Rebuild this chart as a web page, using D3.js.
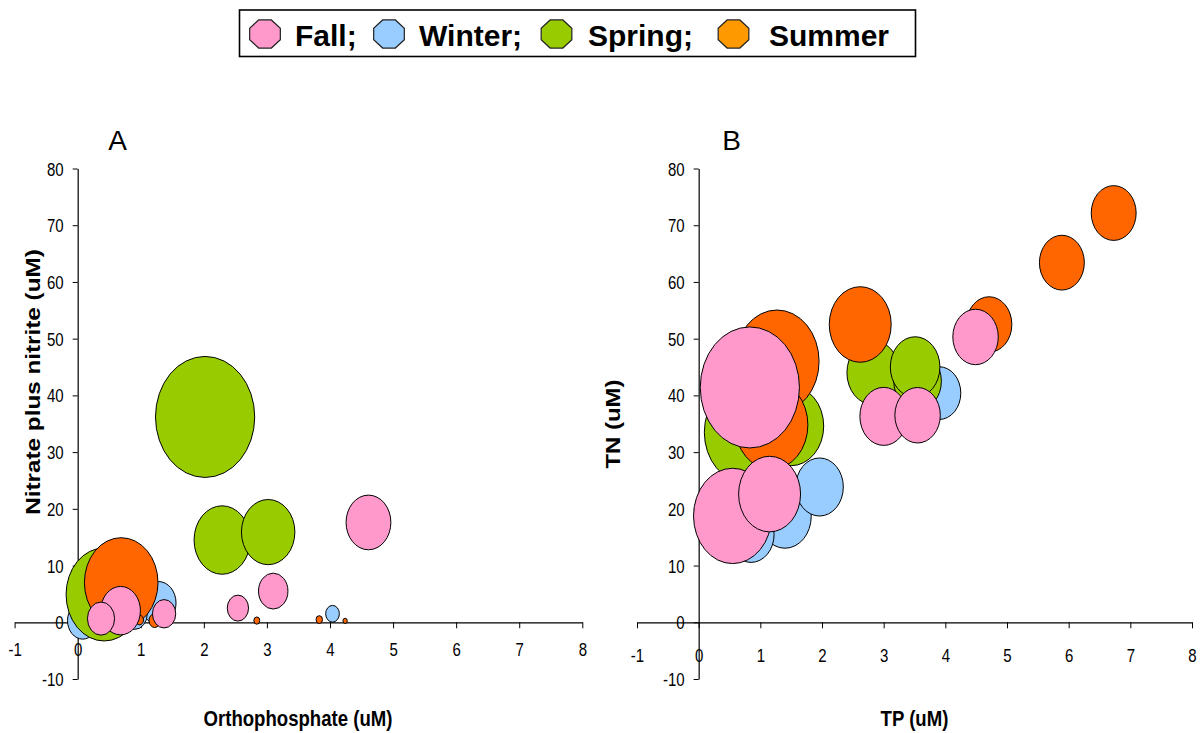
<!DOCTYPE html>
<html>
<head>
<meta charset="utf-8">
<script src="https://cdn.jsdelivr.net/npm/d3@7"></script>
<style>
  html, body { margin: 0; padding: 0; background: #fff; }
  svg { display: block; }
  text { font-family: "Liberation Sans", Arial, Helvetica, sans-serif; fill: #000; }
</style>
</head>
<body>
<svg id="chart" width="1202" height="733"></svg>
<script>
// Seasons, legend labels and tick values
const seasons = ["Fall", "Winter", "Spring", "Summer"];
const legendLabels = ["Fall;", "Winter;", "Spring;", "Summer"];
const xTicks = [-1, 0, 1, 2, 3, 4, 5, 6, 7, 8];
const yTicks = [-10, 0, 10, 20, 30, 40, 50, 60, 70, 80];

// Panel A: orthophosphate (uM), nitrate plus nitrite (uM), bubble size
const fallA = [
  [4.61, 17.6, 20.4],
  [0.68, 2.05, 16],
  [3.10, 5.5, 8.8],
  [0.37, 0.65, 7.5],
  [1.37, 1.5, 5.5],
  [2.54, 2.5, 4.6]
];
const winterA = [
  [1.28, 3.4, 12.6],
  [0.08, 0.3, 9.4],
  [0.90, 1.5, 6.7],
  [4.04, 1.5, 1.9]
];
const springA = [
  [2.02, 36.2, 100],
  [0.42, 4.9, 59],
  [2.29, 14.5, 32],
  [3.02, 15.9, 29]
];
const summerA = [
  [0.69, 7.0, 55],
  [1.22, 0.3, 1.3],
  [0.98, 0.4, 0.65],
  [2.84, 0.3, 0.36],
  [3.83, 0.47, 0.42],
  [4.24, 0.25, 0.19]
];

// Panel B: TP (uM), TN (uM), bubble size
const fallB = [
  [0.83, 41.4, 100],
  [0.55, 18.75, 62],
  [1.15, 22.6, 39],
  [4.49, 50.3, 21],
  [3.00, 36.3, 23],
  [3.55, 36.5, 21]
];
const winterB = [
  [1.40, 18.7, 28],
  [0.85, 15.5, 21.5],
  [1.96, 23.85, 23],
  [3.90, 40.4, 19]
];
const springB = [
  [0.76, 33.5, 69],
  [1.50, 34.6, 43],
  [2.83, 44.0, 28],
  [3.55, 42.5, 23],
  [3.51, 45.0, 25]
];
const summerB = [
  [1.27, 46.0, 72],
  [1.18, 34.8, 54],
  [2.62, 52.5, 39],
  [4.71, 52.5, 21],
  [5.89, 63.4, 20.5],
  [6.73, 72.15, 20.5]
];

// Styling
const bubbleFill = { Fall: "#FF99CC", Winter: "#99CCFF", Spring: "#99CC00", Summer: "#FF6600" };
const legendFill = { Fall: "#FF99CC", Winter: "#99CCFF", Spring: "#99CC00", Summer: "#FF9900" };
const STRETCH = 1.22;   // vertical stretch of the plot drawing

const svg = d3.select("#chart");

// Bubble radius (horizontal); vertical radius is stretched
const rScale = d3.scaleSqrt().domain([0, 100]).range([0, 49.6]);

function panel(cfg) {
  const g = svg.append("g");
  const x = d3.scaleLinear().domain([-1, 8]).range(cfg.xRange);
  const y = d3.scaleLinear().domain([-10, 80]).range([679, 168.5]);

  // x axis through y = 0
  const xAxis = g.append("g")
    .attr("transform", `translate(0,${y(0)})`)
    .call(d3.axisBottom(x).tickValues(xTicks).tickSize(6).tickSizeOuter(0).tickFormat(d => String(d)));
  xAxis.selectAll("text")
    .attr("y", 0).attr("dy", "0.36em")
    .attr("transform", `translate(0,${cfg.xLabelOff}) scale(1,${STRETCH})`)
    .style("font-size", "15px");

  // y axis through x = 0
  const yAxis = g.append("g")
    .attr("transform", `translate(${x(0)},0)`)
    .call(d3.axisLeft(y).tickValues(yTicks).tickSize(5).tickSizeOuter(0).tickFormat(d => String(d)));
  yAxis.selectAll("text")
    .attr("x", -14).attr("y", 0).attr("dy", "0.36em")
    .attr("transform", `scale(1,${STRETCH})`)
    .style("font-size", "15px");

  [xAxis, yAxis].forEach(a => {
    a.select(".domain").attr("stroke", "#000").attr("stroke-width", 1.2);
    a.selectAll(".tick line").attr("stroke", "#000").attr("stroke-width", 1);
    a.selectAll("text").attr("fill", "#000").attr("font-family", null);
  });

  // bubbles: winter, spring, summer, then fall on top
  const order = ["Winter", "Spring", "Summer", "Fall"];
  order.forEach(s => {
    g.append("g").selectAll("ellipse")
      .data(cfg.series[s])
      .join("ellipse")
      .attr("cx", d => x(d[0]))
      .attr("cy", d => y(d[1]))
      .attr("rx", d => rScale(d[2]))
      .attr("ry", d => rScale(d[2]) * STRETCH)
      .attr("fill", bubbleFill[s])
      .attr("stroke", "#000")
      .attr("stroke-width", 1);
  });

  // panel letter
  g.append("text")
    .attr("x", cfg.letterX).attr("y", 150)
    .attr("text-anchor", "middle")
    .style("font-size", "28px")
    .text(cfg.letter);

  // x title
  g.append("text")
    .attr("transform", `translate(${cfg.xTitleX},725.5) scale(1,${STRETCH})`)
    .attr("text-anchor", "middle")
    .style("font-size", "18.6px").style("font-weight", "bold")
    .text(cfg.xTitle);

  // y title
  g.append("text")
    .attr("transform", `translate(${cfg.yTitleX},${cfg.yTitleY}) scale(1,${STRETCH}) rotate(-90)`)
    .attr("text-anchor", "middle")
    .style("font-size", cfg.yTitleSize).style("font-weight", "bold")
    .text(cfg.yTitle);
}

panel({
  xRange: [14.6, 582.3],
  xLabelOff: 27.5,
  series: { Fall: fallA, Winter: winterA, Spring: springA, Summer: summerA },
  letter: "A", letterX: 117.5,
  xTitle: "Orthophosphate (uM)", xTitleX: 298,
  yTitle: "Nitrate plus nitrite (uM)", yTitleX: 39.5, yTitleY: 382, yTitleSize: "19.9px"
});

panel({
  xRange: [637, 1192],
  xLabelOff: 33.5,
  series: { Fall: fallB, Winter: winterB, Spring: springB, Summer: summerB },
  letter: "B", letterX: 731.5,
  xTitle: "TP (uM)", xTitleX: 914.5,
  yTitle: "TN (uM)", yTitleX: 620, yTitleY: 424, yTitleSize: "19.6px"
});

// Legend
const legend = svg.append("g");
legend.append("rect")
  .attr("x", 239.5).attr("y", 10).attr("width", 676).attr("height", 46.5)
  .attr("fill", "#fff").attr("stroke", "#000").attr("stroke-width", 1.6);

const markerX = [265, 389, 556.5, 733.5];
const labelX = [295, 419, 588, 769];
function octagon(cx, cy, rx, ry) {
  return d3.range(8).map(k => {
    const a = (22.5 + 45 * k) * Math.PI / 180;
    return [cx + rx * Math.cos(a), cy + ry * Math.sin(a)];
  });
}
seasons.forEach((s, i) => {
  legend.append("polygon")
    .attr("points", octagon(markerX[i], 34, 16.6, 15.2).map(p => p.join(",")).join(" "))
    .attr("fill", legendFill[s]).attr("stroke", "#222").attr("stroke-width", 1.2);
  legend.append("text")
    .attr("x", labelX[i]).attr("y", 45.5)
    .style("font-size", "30px").style("font-weight", "bold")
    .text(legendLabels[i]);
});
</script>
</body>
</html>
